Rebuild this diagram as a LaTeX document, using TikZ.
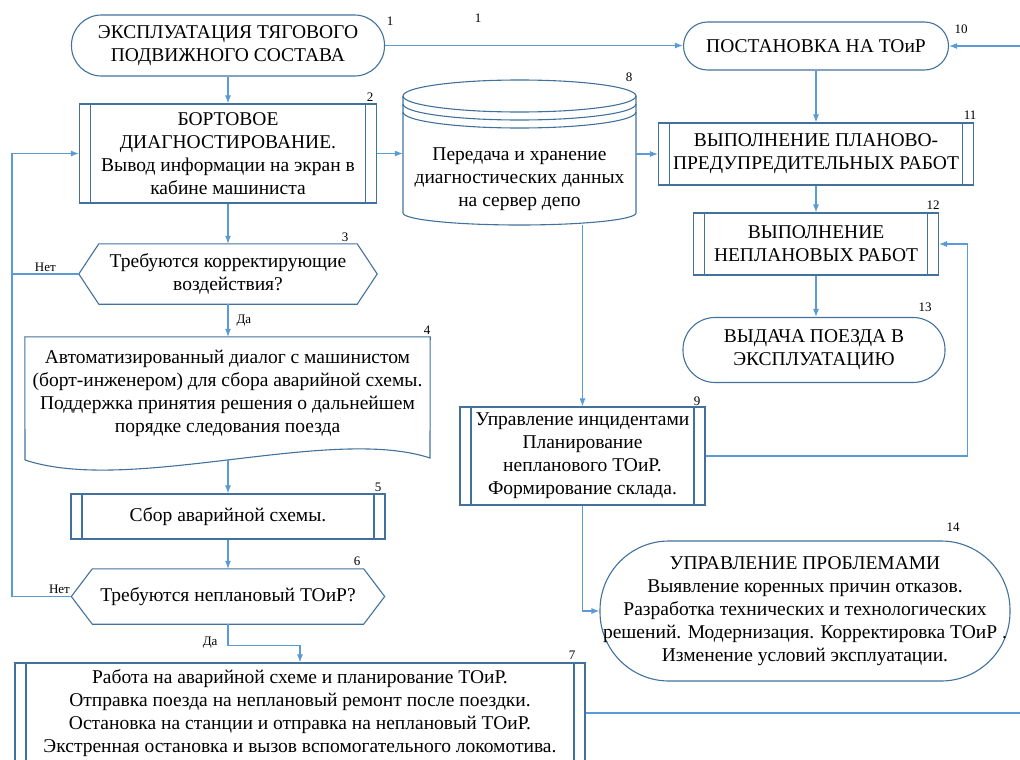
\documentclass[tikz,border=0pt]{standalone}
\usepackage{fontspec}
\setmainfont{Liberation Serif}
\newfontfamily\flowfont{Liberation Serif}
\usepackage{xcolor}
\usepackage{tikz}
\usetikzlibrary{arrows.meta}

\definecolor{boxblue}{RGB}{65,113,156}
\definecolor{lineblue}{RGB}{91,155,213}

\begin{document}
\begin{tikzpicture}[x=1pt, y=-1pt, every node/.append style={font=\flowfont\fontsize{19.5}{23}\selectfont},
        term/.style={draw=boxblue, line width=1.1pt, rectangle, rounded corners=#1, inner sep=0pt, align=center},
        proc/.style={draw=boxblue, line width=1.1pt, rectangle, inner sep=0pt, align=center,
            path picture={\draw[boxblue, line width=1.1pt]
                ([xshift=11pt]path picture bounding box.north west) -- ([xshift=11pt]path picture bounding box.south west)
                ([xshift=-11pt]path picture bounding box.north east) -- ([xshift=-11pt]path picture bounding box.south east);}},
        plain/.style={inner sep=0pt, align=center},
        num/.style={font=\flowfont\fontsize{13}{15}\selectfont, inner sep=0pt},
        lbl/.style={font=\flowfont\fontsize{13}{15}\selectfont, inner sep=2pt},
        ln/.style={draw=lineblue, line width=1.1pt},
        arr/.style={ln, -{Latex[length=8pt, width=6pt]}}]
        \useasboundingbox (0,0) rectangle (1020,760);
        \clip (0,0) rectangle (1020,760);

        \coordinate (lft) at (12,0);
        \coordinate (rgt) at (1032,0);

        \node[term=30pt, minimum width=313pt, minimum height=61pt] (n1) at (228,45.5) {ЭКСПЛУАТАЦИЯ ТЯГОВОГО\\ПОДВИЖНОГО СОСТАВА};
        \node[proc, minimum width=297pt, minimum height=99pt] (n2) at (228,153.5) {БОРТОВОЕ\\ДИАГНОСТИРОВАНИЕ.\\Вывод информации на экран в\\кабине машиниста};
        \node[plain, minimum width=298pt, minimum height=60pt] (n3) at (228,274) {Требуются корректирующие\\воздействия?};
        \node[plain, minimum width=405pt, minimum height=112pt] (n4) at (227.5,393) {Автоматизированный диалог с машинистом\\(борт-инженером) для сбора аварийной схемы.\\Поддержка принятия решения о дальнейшем\\порядке следования поезда};
        \node[proc, minimum width=314pt, minimum height=45pt] (n5) at (228,516.5) {Сбор аварийной схемы.};
        \node[plain, minimum width=313pt, minimum height=55pt] (n6) at (228,596.5) {Требуются неплановый ТОиР?};
        \node[proc, minimum width=570pt, minimum height=100pt] (n7) at (300,713) {Работа на аварийной схеме и планирование ТОиР.\\Отправка поезда на неплановый ремонт после поездки.\\Остановка на станции и отправка на неплановый ТОиР.\\Экстренная остановка и вызов вспомогательного локомотива.};
        \node[plain, minimum width=233pt, minimum height=92pt] (n8) at (519.5,179) {Передача и хранение\\диагностических данных\\на сервер депо};
        \node[proc, minimum width=245pt, minimum height=98pt] (n9) at (582.5,456) {Управление инцидентами\\Планирование\\непланового ТОиР.\\Формирование склада.};
        \node[term=24pt, minimum width=265pt, minimum height=48pt] (n10) at (816,46) {ПОСТАНОВКА НА ТОиР};
        \node[proc, minimum width=315pt, minimum height=62pt] (n11) at (816,154) {ВЫПОЛНЕНИЕ ПЛАНОВО-\\ПРЕДУПРЕДИТЕЛЬНЫХ РАБОТ};
        \node[proc, minimum width=245pt, minimum height=62pt] (n12) at (816,244) {ВЫПОЛНЕНИЕ\\НЕПЛАНОВЫХ РАБОТ};
        \node[term=32pt, minimum width=262pt, minimum height=65pt] (n13) at (814,350) {ВЫДАЧА ПОЕЗДА В\\ЭКСПЛУАТАЦИЮ};
        \node[term=69pt, minimum width=410pt, minimum height=140pt] (n14) at (805,611) {УПРАВЛЕНИЕ ПРОБЛЕМАМИ\\Выявление коренных причин отказов.\\Разработка технических и технологических\\решений. Модернизация. Корректировка ТОиР .\\Изменение условий эксплуатации.};

        % decisions, document, database
        \draw[boxblue, line width=1.1pt] (n3.west) -- ([xshift=20pt]n3.north west) -- ([xshift=-20pt]n3.north east) -- (n3.east)
            -- ([xshift=-20pt]n3.south east) -- ([xshift=20pt]n3.south west) -- cycle;
        \draw[boxblue, line width=1.1pt] (n6.west) -- ([xshift=21pt]n6.north west) -- ([xshift=-21pt]n6.north east) -- (n6.east)
            -- ([xshift=-21pt]n6.south east) -- ([xshift=21pt]n6.south west) -- cycle;
        \draw[boxblue, line width=1.1pt] (25,460) -- (n4.north west) -- (n4.north east) -- (430,458)
            .. controls (330,425) and (130,495) .. (25,460);
        \coordinate (n4b) at (228,460);
        \draw[boxblue, line width=1.1pt] (519.5,96) ellipse (116.5pt and 16pt);
        \draw[boxblue, line width=1.1pt] (403,104) arc (180:360:116.5pt and 16pt);
        \draw[boxblue, line width=1.1pt] (403,112) arc (180:360:116.5pt and 16pt);
        \draw[boxblue, line width=1.1pt] (403,96) -- (403,213) arc (180:360:116.5pt and 12pt) -- (636,96);

        % numbers
        \node[num] (t1) at (390,21) {1};
        \node[num] (t1b) at (478,18) {1};
        \node[num] (t2) at (370,97) {2};
        \node[num] (t3) at (345,237) {3};
        \node[num] (t4) at (427,330) {4};
        \node[num] (t5) at (378,487) {5};
        \node[num] (t6) at (357,561) {6};
        \node[num] (t7) at (572,655) {7};
        \node[num] (t8) at (629,77) {8};
        \node[num] (t9) at (697,401) {9};
        \node[num] (t10) at (961,29) {10};
        \node[num] (t11) at (970,115) {11};
        \node[num] (t12) at (933,205) {12};
        \node[num] (t13) at (925,307) {13};
        \node[num] (t14) at (953,527) {14};

        % connectors
        \draw[arr] (n1.south) -- (n1.south |- n2.north);
        \draw[arr] (n1.east) -- (n1.east -| n10.west);
        \draw[arr] (n2.east) -- (n2.east -| n8.west);
        \draw[arr] (n2.south) -- (n2.south |- n3.north);
        \draw[arr] (n3.west) -- node[lbl, above] (no1) {Нет} (n3.west -| lft) |- (n2.west);
        \draw[arr] (n3.south) -- node[lbl, right=6pt] (da1) {Да} (n3.south |- n4.north);
        \draw[arr] (n4b) -- (n4b |- n5.north);
        \draw[arr] (n5.south) -- (n5.south |- n6.north);
        \draw[ln] (n6.west) -- node[lbl, above, pos=0.2] (no2) {Нет} (n6.west -| lft) -- (n3.west -| lft);
        \draw[arr] (n6.south) -- node[lbl, left=8pt, pos=0.9] (da2) {Да} ++(0,21) -| (n7.north);
        \draw[arr] (n7.east) -- (n7.east -| rgt) |- (n10.east);
        \draw[arr] (n11.west -| n8.east) -- (n11.west);
        \draw[arr] (n8.south -| n9.north) -- (n9.north);
        \draw[arr] (n10.south) -- (n10.south |- n11.north);
        \draw[arr] (n11.south) -- (n11.south |- n12.north);
        \draw[arr] (n12.south) -- (n12.south |- n13.north);
        \draw[arr] (n9.east) -| ([xshift=28pt]n12.east) -- (n12.east);
        \draw[arr] (n9.south) |- (n14.west);
\end{tikzpicture}
\end{document}
